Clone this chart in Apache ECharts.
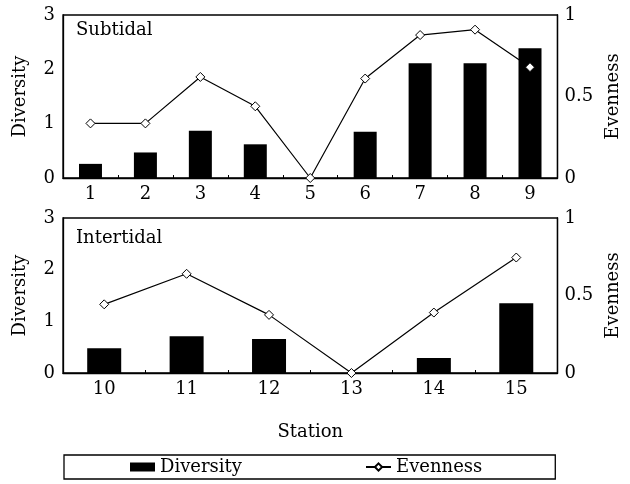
<!DOCTYPE html>
<html>
<head>
<meta charset="utf-8">
<script src="https://cdn.jsdelivr.net/npm/echarts@6/dist/echarts.min.js"></script>
<style>
  html, body { margin: 0; padding: 0; background: #fff; }
  #chart { width: 630px; height: 484px; }
</style>
</head>
<body>
<div id="chart"></div>
<script>
// Station labels for each habitat panel
var subtidalStations = ['1', '2', '3', '4', '5', '6', '7', '8', '9'];
var intertidalStations = ['10', '11', '12', '13', '14', '15'];

// Shannon diversity (left axis) and evenness (right axis)
var subtidalDiversity = [0.26, 0.47, 0.87, 0.62, 0, 0.85, 2.11, 2.11, 2.39];
var subtidalEvenness = [0.335, 0.335, 0.62, 0.44, 0, 0.61, 0.877, 0.91, 0.68];
var intertidalDiversity = [0.48, 0.71, 0.66, 0, 0.29, 1.35];
var intertidalEvenness = [0.443, 0.64, 0.375, 0, 0.39, 0.745];

// Axis ticks
var diversityTicks = [0, 1, 2, 3];
var evennessTicks = [0, 0.5, 1];

var FONT = 'DejaVu Serif';
var FS = 18;
var labelStyle = { color: '#000', fontFamily: FONT, fontSize: FS };
var nameStyle = { color: '#000', fontFamily: FONT, fontSize: FS };

function catAxis(grid, data) {
  return {
    type: 'category', gridIndex: grid, data: data,
    axisLine: { lineStyle: { color: '#000', width: 1.3 } },
    axisTick: { show: true, inside: true, length: 3, lineStyle: { color: '#000' } },
    axisLabel: Object.assign({ margin: 7 }, labelStyle)
  };
}
function divAxis(grid) {
  return {
    type: 'value', gridIndex: grid, min: diversityTicks[0], max: diversityTicks[diversityTicks.length - 1], interval: 1,
    name: 'Diversity', nameLocation: 'middle', nameGap: 34,
    nameTextStyle: nameStyle,
    axisLine: { show: true, lineStyle: { color: '#000', width: 1.3 } },
    axisTick: { show: false }, splitLine: { show: false },
    axisLabel: Object.assign({ margin: 8 }, labelStyle)
  };
}
function evenAxis(grid) {
  return {
    type: 'value', gridIndex: grid, position: 'right', min: evennessTicks[0], max: evennessTicks[evennessTicks.length - 1], interval: 0.5,
    name: 'Evenness', nameLocation: 'middle', nameGap: 43, nameRotate: 90,
    nameTextStyle: nameStyle,
    axisLine: { show: true, lineStyle: { color: '#000', width: 1.3 } },
    axisTick: { show: false }, splitLine: { show: false },
    axisLabel: Object.assign({ margin: 7 }, labelStyle)
  };
}
function barSeries(x, y, data, w) {
  return {
    name: 'Diversity', type: 'bar', xAxisIndex: x, yAxisIndex: y, data: data,
    barWidth: w, itemStyle: { color: '#000' }
  };
}
function lineSeries(x, y, data) {
  return {
    name: 'Evenness', type: 'line', xAxisIndex: x, yAxisIndex: y, data: data,
    symbol: 'diamond', symbolSize: 9, showAllSymbol: true,
    lineStyle: { color: '#000', width: 1.2 },
    itemStyle: { color: '#fff', borderColor: '#000', borderWidth: 1 },
    z: 5
  };
}

var chart = echarts.init(document.getElementById('chart'), null, { renderer: 'canvas' });
chart.setOption({
  animation: false,
  backgroundColor: '#fff',
  textStyle: { fontFamily: FONT },
  grid: [
    { left: 63, top: 15, width: 499, height: 163, show: true, borderColor: '#000', borderWidth: 1.3, backgroundColor: 'transparent' },
    { left: 63, top: 218, width: 499, height: 155, show: true, borderColor: '#000', borderWidth: 1.3, backgroundColor: 'transparent' }
  ],
  xAxis: [
    catAxis(0, subtidalStations),
    Object.assign(catAxis(1, intertidalStations), {
      name: 'Station', nameLocation: 'middle', nameGap: 50,
      nameTextStyle: nameStyle
    })
  ],
  yAxis: [divAxis(0), evenAxis(0), divAxis(1), evenAxis(1)],
  legend: {
    left: 64, top: 455,
    padding: [3, 73, 3, 66],
    itemGap: 123, itemWidth: 25, itemHeight: 9,
    borderColor: '#000', borderWidth: 1.3,
    textStyle: { color: '#000', fontFamily: FONT, fontSize: FS },
    data: [
      { name: 'Diversity', icon: 'rect' },
      { name: 'Evenness' }
    ]
  },
  graphic: [
    { type: 'text', left: 76, top: 21, style: { text: 'Subtidal', fill: '#000', font: FS + 'px "DejaVu Serif"' } },
    { type: 'text', left: 76, top: 229, style: { text: 'Intertidal', fill: '#000', font: FS + 'px "DejaVu Serif"' } }
  ],
  series: [
    barSeries(0, 0, subtidalDiversity, 23),
    lineSeries(0, 1, subtidalEvenness),
    barSeries(1, 2, intertidalDiversity, 34),
    lineSeries(1, 3, intertidalEvenness)
  ]
});
</script>
</body>
</html>
